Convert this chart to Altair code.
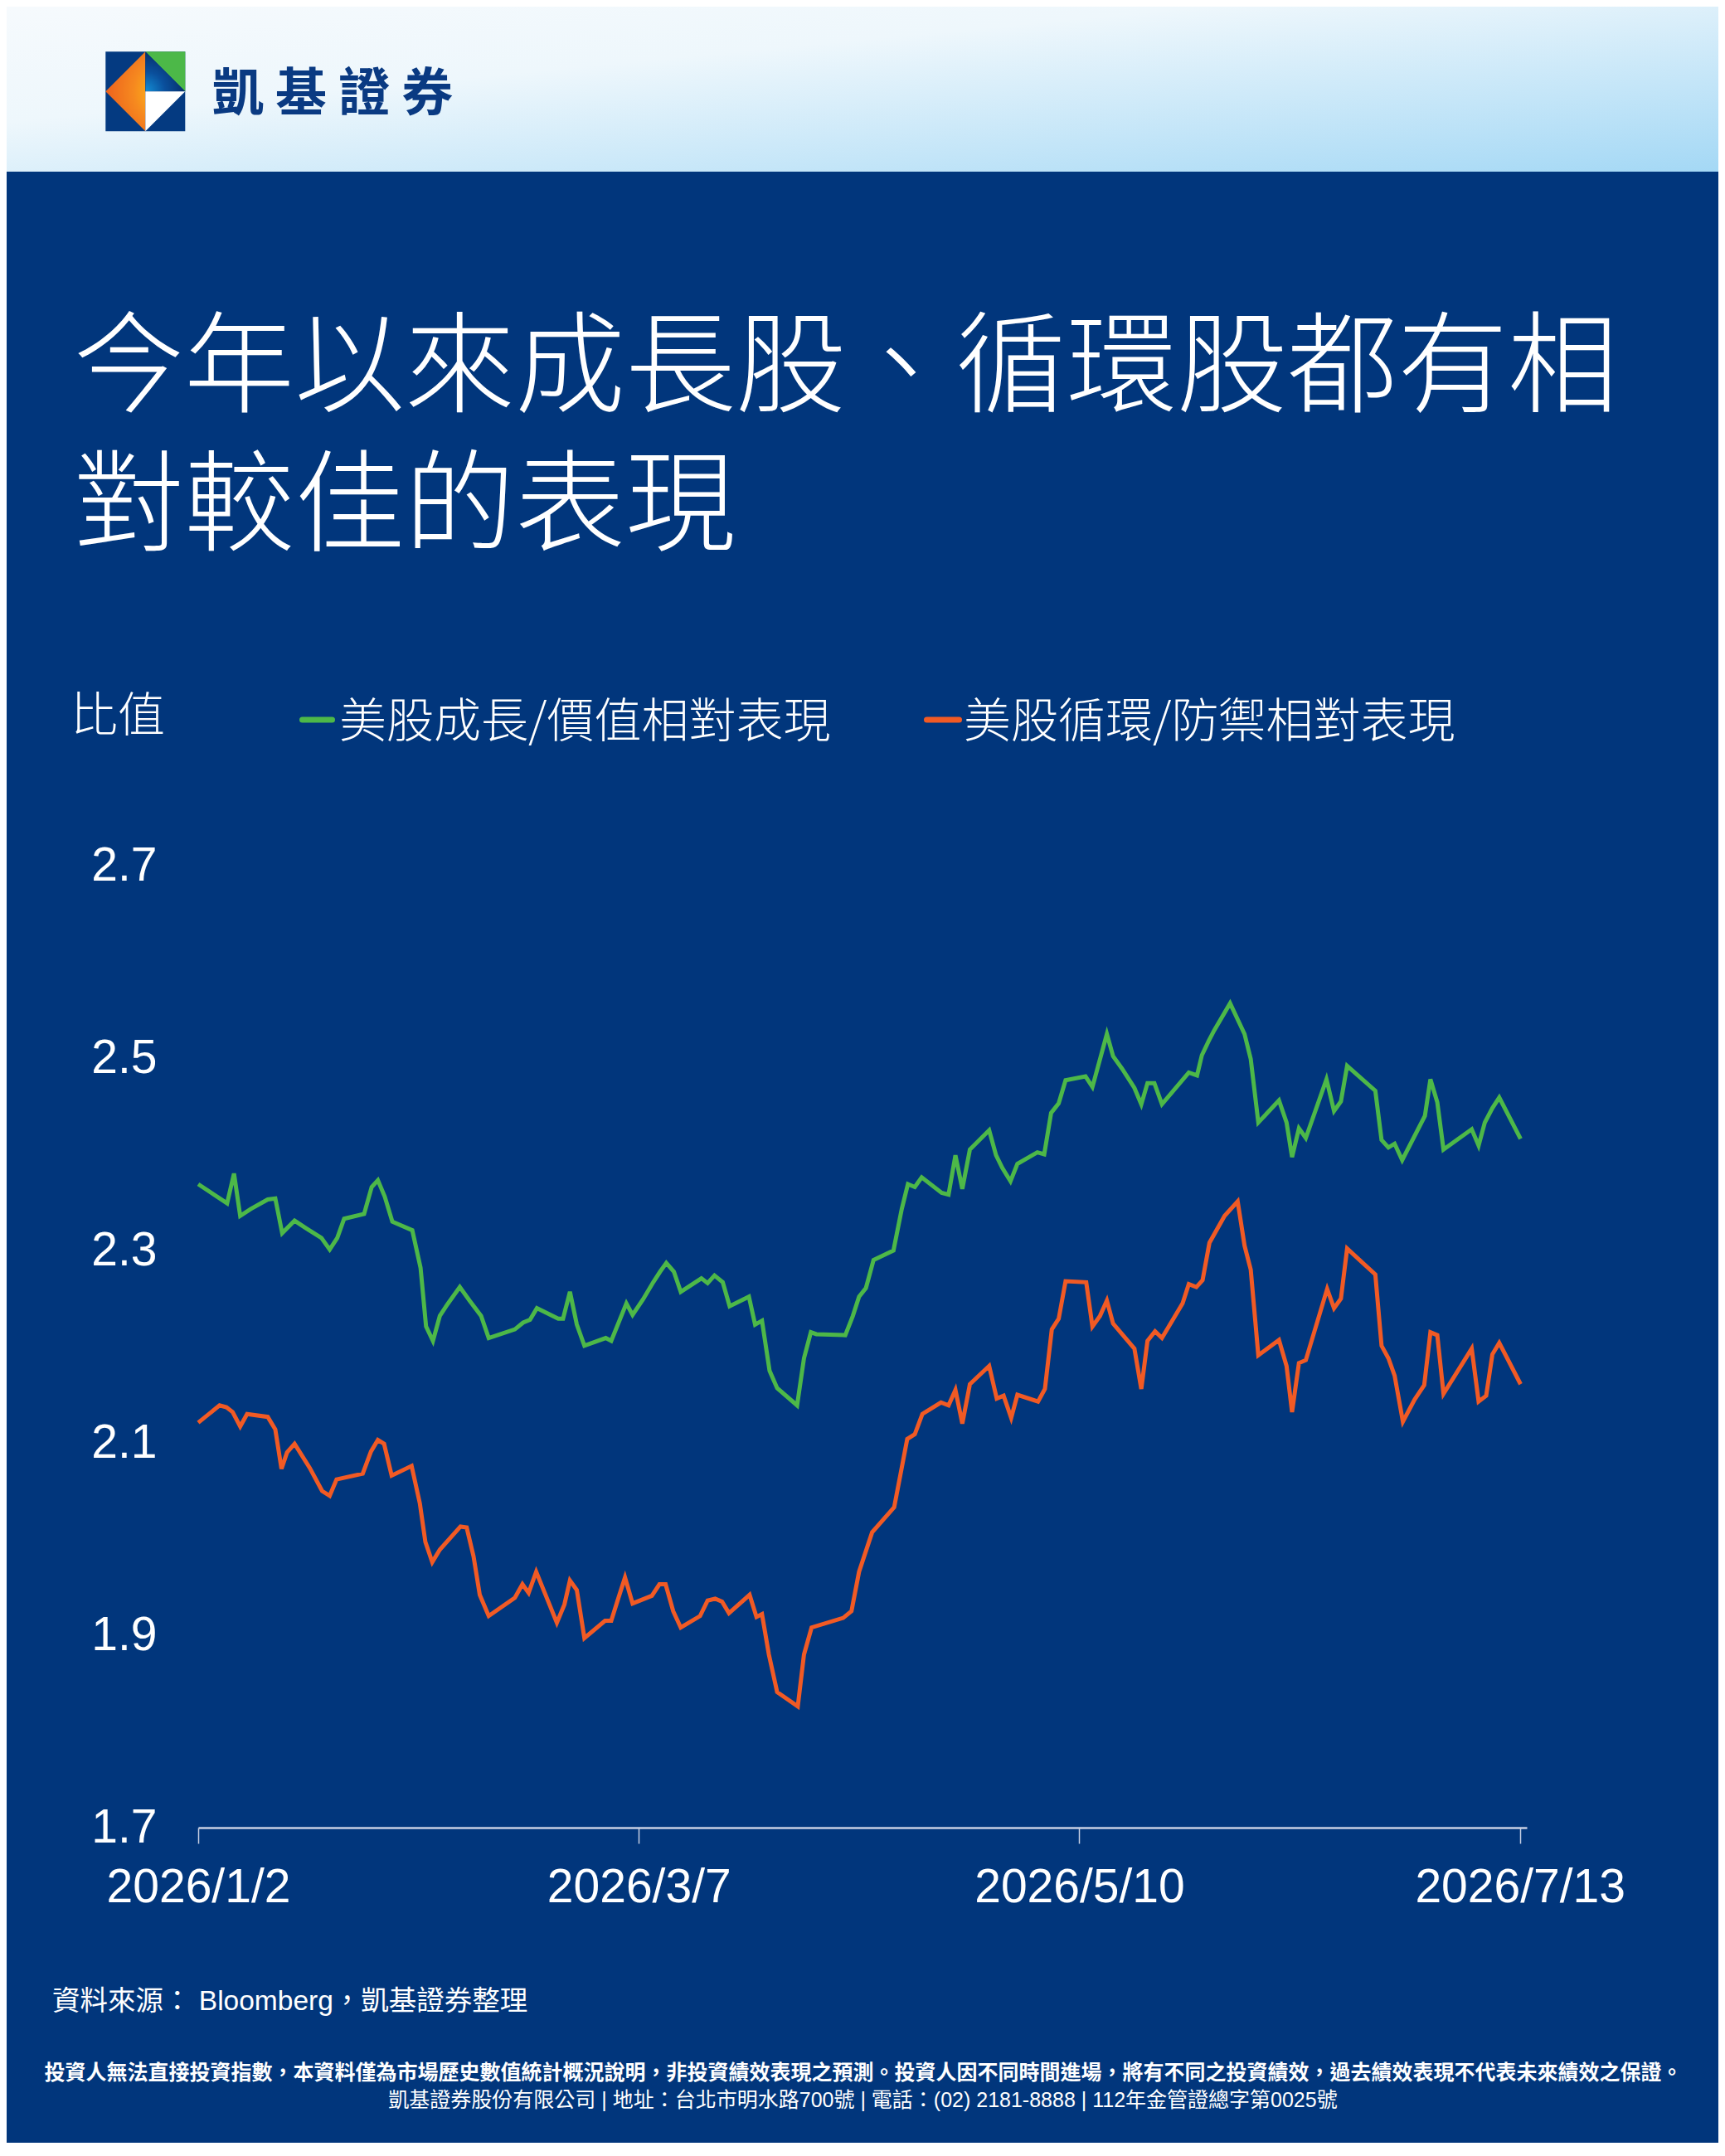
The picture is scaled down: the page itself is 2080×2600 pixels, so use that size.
import altair as alt
import pandas as pd

# ---------------- colours / fonts ----------------
NAVY = "#01367c"
GREEN = "#4db848"
ORANGE = "#f15a24"
CJK = "Noto Sans CJK TC"
LATIN = "Liberation Sans"
MIXED = "Liberation Sans, Noto Sans CJK TC"

# ---------------- data ----------------
series_names = ["美股成長/價值相對表現", "美股循環/防禦相對表現"]
start_date = "2026-01-02"   # day offsets below count from this date

green_day = [0.0, 4.2, 5.2, 6.1, 7.6, 10.1, 11.2, 12.2, 14.0, 15.7,
             17.9, 19.1, 20.2, 21.2, 24.1, 25.2, 26.1, 27.1, 28.2, 31.1,
             32.3, 33.1, 34.1, 35.1, 36.2, 38.0, 39.4, 41.1, 42.2, 46.0,
             47.2, 48.2, 49.2, 52.3, 53.0, 54.0, 55.0, 56.1, 59.2, 60.0,
             62.2, 63.1, 64.6, 66.1, 67.1, 68.0, 69.1, 70.1, 73.1, 74.0,
             75.0, 76.2, 77.2, 80.0, 80.9, 81.9, 83.0, 84.1, 87.0, 88.0,
             89.0, 89.8, 94.0, 95.1, 96.0, 97.0, 98.1, 101.0, 102.2, 103.1,
             104.1, 105.1, 108.0, 109.0, 110.0, 111.0, 112.1, 114.9, 115.9, 116.8,
             118.0, 119.0, 121.9, 122.9, 123.9, 125.0, 126.0, 128.9, 129.9, 132.0,
             132.9, 134.2, 136.0, 137.0, 137.9, 138.9, 140.0, 143.9, 145.1, 145.8,
             146.8, 147.6, 149.9, 152.0, 152.9, 154.0, 157.0, 158.1, 158.9, 159.9,
             160.9, 163.9, 165.0, 166.0, 166.9, 171.0, 171.9, 172.9, 173.8, 174.9,
             178.2, 179.0, 180.0, 180.9, 185.0, 186.0, 186.9, 188.0, 189.0, 192.1]
green_val = [2.369, 2.349, 2.380, 2.336, 2.343, 2.353, 2.354, 2.318, 2.331, 2.323,
             2.313, 2.301, 2.313, 2.333, 2.338, 2.366, 2.373, 2.356, 2.330, 2.321,
             2.282, 2.221, 2.206, 2.232, 2.244, 2.262, 2.248, 2.232, 2.209, 2.218,
             2.225, 2.228, 2.240, 2.229, 2.229, 2.257, 2.223, 2.201, 2.209, 2.206,
             2.245, 2.233, 2.249, 2.267, 2.278, 2.287, 2.278, 2.257, 2.271, 2.266,
             2.274, 2.267, 2.242, 2.252, 2.223, 2.227, 2.175, 2.157, 2.139, 2.188,
             2.215, 2.213, 2.212, 2.232, 2.252, 2.261, 2.290, 2.300, 2.343, 2.369,
             2.366, 2.376, 2.360, 2.358, 2.399, 2.364, 2.405, 2.425, 2.399, 2.386,
             2.372, 2.390, 2.402, 2.400, 2.443, 2.453, 2.477, 2.481, 2.470, 2.525,
             2.502, 2.489, 2.469, 2.452, 2.474, 2.474, 2.452, 2.485, 2.482, 2.503,
             2.518, 2.529, 2.557, 2.525, 2.499, 2.433, 2.456, 2.433, 2.397, 2.427,
             2.417, 2.478, 2.445, 2.455, 2.492, 2.466, 2.415, 2.407, 2.411, 2.394,
             2.440, 2.478, 2.454, 2.405, 2.426, 2.409, 2.433, 2.448, 2.459, 2.416]

orange_day = [0.0, 3.1, 4.1, 5.0, 6.1, 7.1, 10.1, 11.2, 12.1, 12.9,
              14.0, 16.2, 18.0, 19.1, 20.1, 23.9, 25.1, 26.1, 27.0, 28.1,
              31.0, 32.2, 33.0, 34.0, 35.1, 38.1, 39.0, 40.0, 40.9, 42.2,
              46.0, 47.1, 48.0, 49.1, 50.4, 52.1, 53.2, 54.0, 55.0, 56.1,
              59.1, 60.0, 61.1, 62.0, 63.1, 65.9, 67.0, 67.9, 69.0, 70.1,
              72.9, 74.0, 75.1, 76.1, 77.1, 80.1, 81.1, 81.9, 82.9, 84.1,
              87.1, 88.0, 89.1, 93.7, 94.9, 96.0, 97.9, 101.1, 103.0, 104.1,
              105.2, 107.9, 109.0, 110.0, 111.0, 112.1, 114.9, 116.0, 117.0, 118.1,
              119.0, 122.0, 123.0, 124.0, 125.0, 126.0, 129.0, 129.9, 131.0, 132.0,
              132.9, 136.0, 137.0, 137.9, 139.0, 140.0, 143.0, 143.9, 145.0, 145.9,
              146.9, 149.1, 151.0, 152.0, 152.9, 154.0, 157.0, 158.1, 158.9, 159.9,
              160.9, 164.0, 165.0, 166.0, 166.9, 171.0, 171.9, 172.9, 173.8, 175.0,
              176.7, 178.1, 179.0, 180.0, 180.9, 185.0, 186.0, 187.1, 188.0, 189.0,
              192.1]
orange_val = [2.121, 2.139, 2.137, 2.132, 2.117, 2.130, 2.127, 2.114, 2.073, 2.090,
              2.099, 2.074, 2.050, 2.045, 2.062, 2.068, 2.091, 2.103, 2.099, 2.066,
              2.076, 2.037, 1.997, 1.976, 1.989, 2.013, 2.012, 1.982, 1.942, 1.920,
              1.939, 1.953, 1.944, 1.966, 1.943, 1.913, 1.932, 1.957, 1.947, 1.897,
              1.915, 1.915, 1.940, 1.960, 1.933, 1.941, 1.953, 1.953, 1.925, 1.908,
              1.920, 1.936, 1.938, 1.935, 1.923, 1.942, 1.919, 1.922, 1.880, 1.841,
              1.826, 1.880, 1.908, 1.918, 1.925, 1.966, 2.007, 2.033, 2.104, 2.109,
              2.130, 2.142, 2.139, 2.155, 2.120, 2.161, 2.180, 2.146, 2.149, 2.126,
              2.150, 2.143, 2.156, 2.218, 2.229, 2.268, 2.267, 2.221, 2.232, 2.248,
              2.224, 2.198, 2.156, 2.206, 2.216, 2.209, 2.245, 2.265, 2.262, 2.269,
              2.308, 2.336, 2.351, 2.305, 2.280, 2.191, 2.207, 2.180, 2.132, 2.183,
              2.186, 2.260, 2.240, 2.250, 2.302, 2.275, 2.201, 2.188, 2.170, 2.122,
              2.145, 2.160, 2.215, 2.212, 2.151, 2.198, 2.143, 2.149, 2.192, 2.204,
              2.161]

x_tick_dates = ["2026-01-02", "2026-03-07", "2026-05-10", "2026-07-13"]
x_domain_dates = ["2026-01-02", "2026-07-14"]
y_ticks = [1.7, 1.9, 2.1, 2.3, 2.5, 2.7]
y_domain = [1.7, 2.7]

title_lines = ["今年以來成長股、循環股都有相", "對較佳的表現"]
y_title = "比值"
brand_text = "凱 基 證 券"
source_text = "資料來源： Bloomberg，凱基證券整理"
disclaimer_text = ("投資人無法直接投資指數，本資料僅為市場歷史數值統計概況說明，非投資績效表現之預測。"
                   "投資人因不同時間進場，將有不同之投資績效，過去績效表現不代表未來績效之保證。")
company_text = "凱基證券股份有限公司 | 地址：台北市明水路700號 | 電話：(02) 2181-8888 | 112年金管證總字第0025號"

# ---------------- build table ----------------
base = pd.Timestamp(start_date)
frames = []
for name, days, vals in [(series_names[0], green_day, green_val),
                         (series_names[1], orange_day, orange_val)]:
    frames.append(pd.DataFrame({
        "series": name,
        "date": base + pd.to_timedelta(days, unit="D"),
        "value": vals,
    }))
df = pd.concat(frames, ignore_index=True)


def dt(s):
    t = pd.Timestamp(s)
    return alt.DateTime(year=t.year, month=t.month, date=t.day)


W, H = 1602, 1160
PAD = {"left": 231, "top": 1036, "right": 231, "bottom": 380}

color_scale = alt.Scale(domain=series_names, range=[GREEN, ORANGE])

one = pd.DataFrame({"k": [0]})

# ---------------- header ----------------
header = alt.Chart(one).mark_rect(
    fill=alt.LinearGradient(
        gradient="linear", x1=0, y1=0, x2=1, y2=1,
        stops=[alt.GradientStop(offset=0, color="#f6fafd"),
               alt.GradientStop(offset=0.35, color="#eef7fc"),
               alt.GradientStop(offset=1, color="#a4d8f5")]),
    strokeWidth=0,
).encode(x=alt.value(-231), x2=alt.value(1833), y=alt.value(-1036), y2=alt.value(-837))

LOGO_X, LOGO_Y, LOGO_SIZE = -63.7, -933.7, 96 * 96


def logo_piece(path, fill):
    return alt.Chart(one).mark_point(
        shape=path, size=LOGO_SIZE, filled=True, fill=fill, opacity=1, strokeWidth=0
    ).encode(x=alt.value(LOGO_X), y=alt.value(LOGO_Y))


logo = alt.layer(
    logo_piece("M-1,-1L1,-1L1,1L-1,1Z", "#043a81"),
    logo_piece("M-1,0L0,-1L0,1Z", alt.RadialGradient(
        gradient="radial", x1=1, y1=0.5, r1=0, x2=1, y2=0.5, r2=1,
        stops=[alt.GradientStop(offset=0, color="#ffc914"),
               alt.GradientStop(offset=0.4, color="#f6891f"),
               alt.GradientStop(offset=1, color="#e6461c")])),
    logo_piece("M0,-1L1,-1L1,0Z", "#4cb848"),
    logo_piece("M0,-1L1,0L0,0Z", alt.RadialGradient(
        gradient="radial", x1=0, y1=1, r1=0, x2=0, y2=1, r2=1,
        stops=[alt.GradientStop(offset=0, color="#138fd6"),
               alt.GradientStop(offset=0.5, color="#0a4f9c"),
               alt.GradientStop(offset=1, color="#062f6c")])),
    logo_piece("M0,0L1,0L0,1Z", "#ffffff"),
)

brand = alt.Chart(pd.DataFrame({"t": [brand_text]})).mark_text(
    font=CJK, fontSize=62, fontWeight="bold", color="#0a3a82", align="left", baseline="alphabetic"
).encode(x=alt.value(17), y=alt.value(-910), text="t:N")


def label(text, x, y, size, weight="normal", font=CJK, align="left", **kw):
    return alt.Chart(pd.DataFrame({"t": [text]})).mark_text(
        font=font, fontSize=size, fontWeight=weight, color="#ffffff",
        align=align, baseline="alphabetic", **kw
    ).encode(x=alt.value(x), y=alt.value(y), text="t:N")


title = label("\n".join(title_lines), -150, -557, 133, weight=300,
              lineBreak="\n", lineHeight=167)
ytitle = label(y_title, -154, -162, 57, weight=300)

# ---------------- legend (manual) ----------------
leg_rules = []
for name, x1, x2 in [(series_names[0], 125.5, 161.5), (series_names[1], 878.5, 917.5)]:
    leg_rules.append(
        alt.Chart(pd.DataFrame({"series": [name]})).mark_rule(strokeWidth=7, strokeCap="round").encode(
            x=alt.value(x1), x2=alt.value(x2), y=alt.value(-176),
            color=alt.Color("series:N", scale=color_scale, legend=None))
    )
leg_text1 = label(series_names[0], 170, -155, 57, weight=300)
leg_text2 = label(series_names[1], 923, -155, 57, weight=300)

# ---------------- lines ----------------
lines = alt.Chart(df).mark_line(strokeWidth=5).encode(
    x=alt.X("date:T",
            scale=alt.Scale(domain=[dt(d) for d in x_domain_dates], nice=False),
            axis=alt.Axis(values=[dt(d) for d in x_tick_dates], format="%Y/%-m/%-d",
                          title=None, grid=False, labelFlush=False, labelOverlap=False,
                          labelLimit=800,
                          domainColor="#c7cfe3", domainWidth=2.5,
                          tickColor="#c7cfe3", tickWidth=1.5, tickSize=19,
                          labelPadding=25, labelFont=LATIN, labelFontSize=57,
                          labelColor="#ffffff")),
    y=alt.Y("value:Q",
            scale=alt.Scale(domain=y_domain, nice=False, zero=False),
            axis=alt.Axis(values=y_ticks, format=".1f", title=None, grid=False,
                          domain=False, ticks=False, tickSize=0, labelPadding=50,
                          labelLimit=400,
                          labelFont=LATIN, labelFontSize=57, labelColor="#ffffff")),
    color=alt.Color("series:N", scale=color_scale, legend=None),
)

# ---------------- footer ----------------
source = label(source_text, -176, 1380, 33.5, font=MIXED)
disclaimer = label(disclaimer_text, 802, 1464, 25, weight="bold", align="center")
company = label(company_text, 801.5, 1497, 25, font=MIXED, align="center")

chart = alt.layer(
    header, logo, brand, title, ytitle,
    *leg_rules, leg_text1, leg_text2,
    lines, source, disclaimer, company,
).properties(
    width=W, height=H, padding=PAD, background=NAVY,
    autosize=alt.AutoSizeParams(type="none"),
).configure_view(stroke=None)

chart.save("out.html", embed_options={"renderer": "svg", "actions": False})
